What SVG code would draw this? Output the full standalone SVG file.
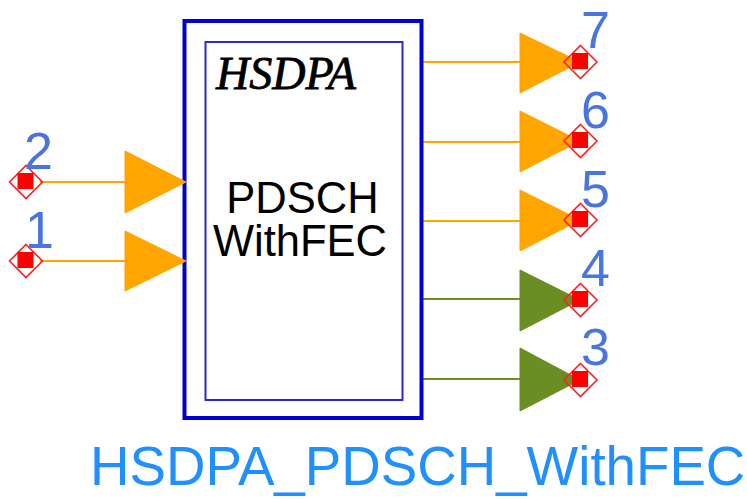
<svg xmlns="http://www.w3.org/2000/svg" width="747" height="499" viewBox="0 0 747 499">
<defs>
<style>
.w{fill:none;stroke-width:2}
.o{stroke:#ffa500;fill:#ffa500}
.g{stroke:#6b8e23;fill:#6b8e23}
.num{font-family:"Liberation Sans",Arial,sans-serif;font-size:52px;fill:#4a74e0}
.box{font-family:"Liberation Sans",Arial,sans-serif;font-size:43.500px;fill:#000;text-anchor:middle}
.d{fill:none;stroke:#ff2020;stroke-width:1.600}
.s{fill:#ff0000}
</style>
<g id="pin"><path class="d" d="M0-16.500 16.500 0 0 16.500-16.500 0Z"/><rect class="s" x="-8.500" y="-9" width="16" height="16"/></g>
</defs>
<rect width="747" height="499" fill="#fff"/>
<g id="connectors">
<path class="w o" d="M40 182H125M40 261H125M422 62H520M422 142H520M422 221H520"/>
<path class="w g" d="M422 299H520M422 379H520"/>
</g>
<g id="block">
<rect x="184.500" y="21" width="237" height="397" fill="#fff" stroke="#0000d0" stroke-width="4"/>
<rect x="205.500" y="42" width="197" height="358" fill="none" stroke="#2a2ad0" stroke-width="2"/>
<text x="216" y="89" font-family="'Liberation Serif','Times New Roman',serif" font-size="46" font-style="italic" stroke="#000" stroke-width="0.800" fill="#000" textLength="140" lengthAdjust="spacingAndGlyphs">HSDPA</text>
<text class="box" x="302.500" y="213">PDSCH</text>
<text class="box" x="300" y="256">WithFEC</text>
</g>
<g id="port1"><path class="o" stroke="none" d="M125 231 186 261 125 291Z"/><use href="#pin" x="26" y="261"/><text class="num" x="25" y="248">1</text></g>
<g id="port2"><path class="o" stroke="none" d="M125 151 186 182 125 213Z"/><use href="#pin" x="26" y="182"/><text class="num" x="24" y="169">2</text></g>
<g id="port3"><path class="g" stroke="none" d="M520 348 580 380 520 411Z"/><use href="#pin" x="580.500" y="380"/><text class="num" x="581" y="365">3</text></g>
<g id="port4"><path class="g" stroke="none" d="M520 270 580 300 520 331Z"/><use href="#pin" x="580.500" y="300"/><text class="num" x="581" y="286">4</text></g>
<g id="port5"><path class="o" stroke="none" d="M520 190 580 220 520 251Z"/><use href="#pin" x="580.500" y="220"/><text class="num" x="581" y="207">5</text></g>
<g id="port6"><path class="o" stroke="none" d="M520 111 580 141 520 172Z"/><use href="#pin" x="580.500" y="141"/><text class="num" x="581" y="128">6</text></g>
<g id="port7"><path class="o" stroke="none" d="M520 33 580 62 520 93Z"/><use href="#pin" x="580.500" y="62"/><text class="num" x="581" y="48">7</text></g>
<text id="title" x="90" y="485" font-family="'Liberation Sans',Arial,sans-serif" font-size="54.700" fill="#2090ff">HSDPA_PDSCH_WithFEC</text>
</svg>
